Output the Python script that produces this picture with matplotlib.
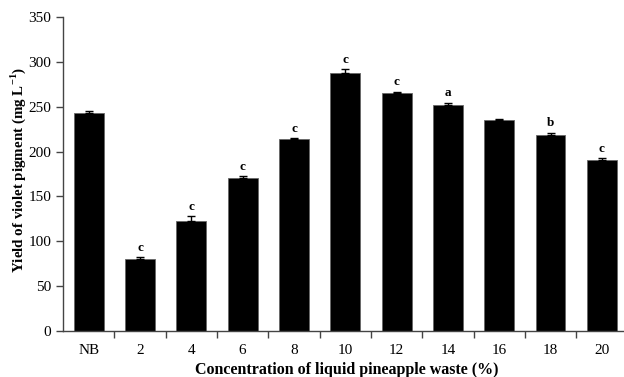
import matplotlib
matplotlib.use("Agg")
import matplotlib.pyplot as plt
import numpy as np

categories = ["NB", "2", "4", "6", "8", "10", "12", "14", "16", "18", "20"]
values = [243, 80, 123, 170.5, 214, 288, 265, 252, 235, 219, 191]
errors = [2.5, 2, 5, 2, 1, 3.5, 1.5, 2.5, 1, 2, 1.5]
letters = ["", "c", "c", "c", "c", "c", "c", "a", "", "b", "c"]

plt.rcParams['font.family'] = ['Liberation Serif', 'DejaVu Serif']
plt.rcParams['mathtext.fontset'] = 'custom'
plt.rcParams['mathtext.rm'] = 'Liberation Serif'
plt.rcParams['mathtext.bf'] = 'Liberation Serif:bold'

fig = plt.figure(figsize=(6.24, 3.77), dpi=100)
ax = fig.add_axes([63/624, 1-331/377, 1-63/624, (331-17)/377])

x = np.arange(len(categories))
ax.bar(x, values, width=0.58, color="black", edgecolor="#666666", linewidth=0.6,
       yerr=[np.zeros(len(errors)), errors], capsize=3,
       error_kw=dict(ecolor="black", elinewidth=1, capthick=1))

for xi, v, e, t in zip(x, values, errors, letters):
    if t:
        ax.text(xi, v + e + 4, t, ha="center", va="bottom", fontsize=9.5, fontweight="bold")

ax.set_xlim(-0.5, 10.43)
ax.set_ylim(0, 350)
ax.set_yticks(np.arange(0, 351, 50))
ax.set_xticks(x)
ax.set_xticklabels(categories, fontsize=11)
ax.tick_params(axis="x", which="major", length=0, pad=9)
ax.set_xticks(np.arange(0.5, 10, 1), minor=True)
ax.tick_params(axis="x", which="minor", length=5, direction="out", width=1, color="#444444")
ax.tick_params(axis="y", labelsize=11, length=5, direction="out", width=1, color="#444444")

for s in ["top", "right"]:
    ax.spines[s].set_visible(False)
for s in ["left", "bottom"]:
    ax.spines[s].set_color("#444444")
    ax.spines[s].set_linewidth(1)

fig.text(347/624, 1-370/377, "Concentration of liquid pineapple waste (%)",
         fontsize=11.5, fontweight="bold", ha="center", va="center")
fig.text(18.5/624, 1-170/377, "Yield of violet pigment (mg L$^{\\mathbf{-1}}$)",
         fontsize=10.8, fontweight="bold", ha="center", va="center", rotation=90)

fig.savefig("out.png", dpi=100)
